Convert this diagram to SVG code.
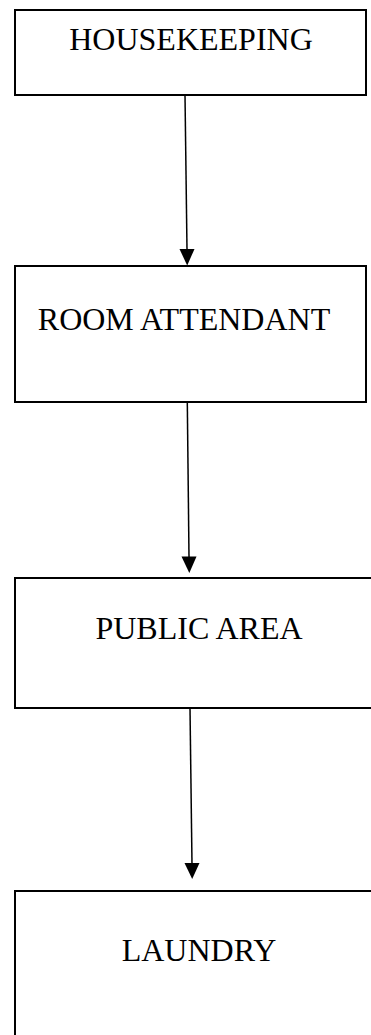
<svg xmlns="http://www.w3.org/2000/svg" width="371" height="1035" viewBox="0 0 371 1035">
<style>
.box{fill:#fff;stroke:#000;stroke-width:2}
.lbl{font-family:"Liberation Serif","Times New Roman",serif;font-size:32px;fill:#000;text-anchor:middle}
.con{stroke:#000;stroke-width:1.5;fill:none}
.head{fill:#000}
</style>
<rect width="371" height="1035" fill="#fff"/>
<g id="node-housekeeping">
<rect class="box" x="15" y="10" width="351" height="85"/>
<text class="lbl" x="191" y="50">HOUSEKEEPING</text>
</g>
<g id="node-room-attendant">
<rect class="box" x="15" y="266" width="351" height="136"/>
<text class="lbl" x="184" y="330">ROOM ATTENDANT</text>
</g>
<g id="node-public-area">
<rect class="box" x="15" y="578" width="370" height="130"/>
<text class="lbl" x="199" y="639">PUBLIC AREA</text>
</g>
<g id="node-laundry">
<rect class="box" x="15" y="891" width="370" height="160"/>
<text class="lbl" x="199" y="961">LAUNDRY</text>
</g>
<g id="connectors">
<line class="con" x1="185" y1="95" x2="187" y2="250"/>
<polygon class="head" points="179.5,249 194.5,249 187.2,265.5"/>
<line class="con" x1="187.3" y1="402" x2="189" y2="557"/>
<polygon class="head" points="181.5,556.5 196.5,556.5 189.3,573"/>
<line class="con" x1="190" y1="708" x2="192" y2="864"/>
<polygon class="head" points="184.5,863 199.5,863 192.2,879"/>
</g>
</svg>
